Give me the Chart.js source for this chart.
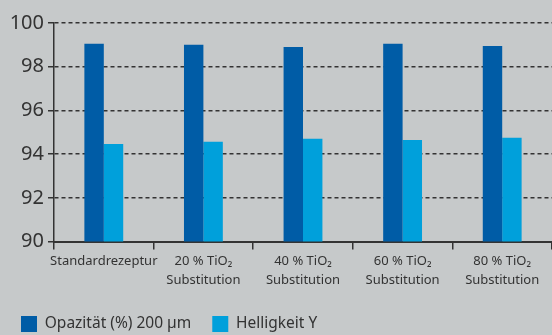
<!DOCTYPE html>
<html><head><meta charset="utf-8">
<script src="https://cdn.jsdelivr.net/npm/chart.js@4/dist/chart.umd.min.js"></script>
<style>html,body{margin:0;padding:0;background:#c6c9ca;}#wrap{width:552px;height:335px;}</style>
</head><body><div id="wrap"><canvas id="c" width="552" height="335"></canvas></div>
<script>
const categories = [
  ['Standardrezeptur'],
  ['20 % TiO\u2082', 'Substitution'],
  ['40 % TiO\u2082', 'Substitution'],
  ['60 % TiO\u2082', 'Substitution'],
  ['80 % TiO\u2082', 'Substitution']
];
const seriesNames = ['Opazität (%) 200 µm', 'Helligkeit Y'];
const opazitaet = [99.05, 99.0, 98.9, 99.05, 98.95];
const helligkeit = [94.47, 94.57, 94.7, 94.65, 94.75];
const yTicks = [90, 92, 94, 96, 98, 100];

const bg = {id:'bg', beforeDraw(c){const x=c.ctx;x.save();x.fillStyle='#c6c9ca';x.fillRect(0,0,c.width,c.height);x.restore();}};
const font = "'Noto Sans', 'DejaVu Sans', sans-serif";
new Chart(document.getElementById('c'), {
  type: 'bar',
  data: {
    labels: categories,
    datasets: [
      {label: seriesNames[0], data: opazitaet, backgroundColor: '#005ca6', categoryPercentage: 0.39, barPercentage: 1},
      {label: seriesNames[1], data: helligkeit, backgroundColor: '#00a0db', categoryPercentage: 0.39, barPercentage: 1}
    ]
  },
  options: {
    responsive: false, animation: false,
    layout: {padding: {top: 23, right: 0, left: 0, bottom: -7}},
    plugins: {
      tooltip: {enabled: false},
      legend: {
        position: 'bottom', align: 'start',
        labels: {boxWidth: 16, boxHeight: 16, padding: 21, color: '#333', font: {family: font, size: 15.5}}
      }
    },
    scales: {
      x: {
        afterFit(s){ s.height += 3; },
        grid: {drawOnChartArea: false, drawTicks: true, tickLength: 8, color: '#333', lineWidth: 1.5},
        border: {display: true, color: '#333', width: 2},
        ticks: {color: '#333', font: {family: font, size: 13, lineHeight: 1.4}, padding: 3, maxRotation: 0, autoSkip: false}
      },
      y: {
        min: 90, max: 100,
        afterFit(s){ s.width = 54; },
        afterBuildTicks(s){ s.ticks = yTicks.map(v => ({value: v})); },
        grid: {color: '#333', lineWidth: 1.5, tickLength: 6, drawTicks: true, tickBorderDash: [], tickColor: '#333'},
        border: {display: true, color: '#333', width: 1.5, dash: [4, 3]},
        ticks: {color: '#333', font: {family: font, size: 20}, padding: 4}
      }
    }
  },
  plugins: [bg]
});
</script></body></html>
